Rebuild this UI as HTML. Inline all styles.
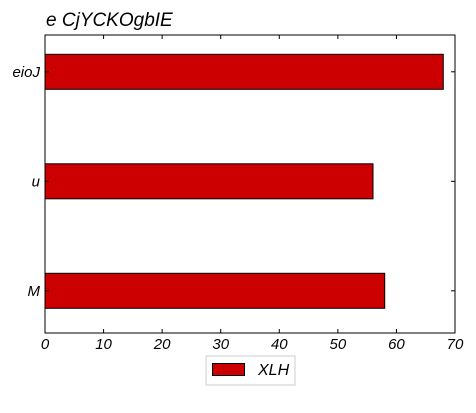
<!DOCTYPE html>
<html><head><meta charset="utf-8"><style>
body{margin:0;background:#fff}
text{font-family:"Liberation Sans",sans-serif;font-style:italic}
</style></head><body>
<svg id="chart" width="476" height="408" xmlns="http://www.w3.org/2000/svg">
<text x="46" y="26" font-size="19">e CjYCKOgbIE</text>
<g id="bars"></g>
<rect x="45" y="35" width="410" height="298" fill="none" stroke="#000" stroke-width="1"/>
<g id="axes"></g>
<g>
<rect x="206" y="356" width="89" height="29" fill="#fff" stroke="#ccc"/>
<rect x="212.5" y="363.5" width="32" height="12" fill="#cc0000" stroke="#000"/>
<text x="258" y="375" font-size="16">XLH</text>
</g>
</svg>
<script>
const categories=["M","u","eioJ"];
const values=[58,56,68];
const xTicks=[0,10,20,30,40,50,60,70];
const ns="http://www.w3.org/2000/svg";
const x0=45,x1=455,xmax=70;
function xs(v){return x0+(x1-x0)*v/xmax;}
function ys(i){return 290.8-i*109.5;}
const bars=document.getElementById('bars'),axes=document.getElementById('axes');
function mk(tag,a,p){const e=document.createElementNS(ns,tag);for(const k in a)e.setAttribute(k,a[k]);p.appendChild(e);return e;}
categories.forEach((c,i)=>{
  const r=mk('rect',{x:xs(0),y:ys(i)-17.5,width:xs(values[i])-xs(0),height:35,fill:'#cc0000',stroke:'#000','stroke-width':1},bars);
  
  
  const t=mk('text',{x:40,y:ys(i)+5,'font-size':15,'text-anchor':'end'},axes);
  t.textContent=c;
  
  
  mk('line',{x1:x0,x2:x0+4,y1:ys(i),y2:ys(i),stroke:'#000'},axes);
  mk('line',{x1:x1-4,x2:x1,y1:ys(i),y2:ys(i),stroke:'#000'},axes);
});
xTicks.forEach(v=>{
  const x=xs(v);
  mk('line',{x1:x,x2:x,y1:333,y2:329,stroke:'#000'},axes);
  mk('line',{x1:x,x2:x,y1:35,y2:39,stroke:'#000'},axes);
  const t=mk('text',{x:x,y:349,'font-size':15,'text-anchor':'middle'},axes);
  t.textContent=v;
  
  
});
</script>
</body></html>
